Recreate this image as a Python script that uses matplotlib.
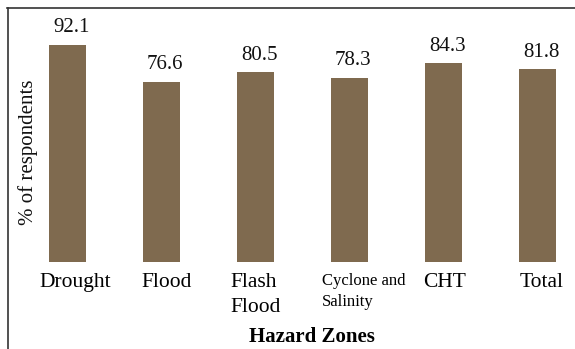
import numpy as np
import matplotlib.pyplot as plt
import matplotlib.transforms as mtransforms
from matplotlib.lines import Line2D

# hazard zones and share of respondents
zones = ['Drought', 'Flood', 'Flash\nFlood', 'Cyclone and\nSalinity', 'CHT', 'Total']
values = [92.1, 76.6, 80.5, 78.3, 84.3, 81.8]

plt.rcParams['font.family'] = ['Liberation Serif', 'DejaVu Serif']

W, H = 575, 349
fig = plt.figure(figsize=(W/100, H/100), dpi=100)
# axes placed in pixel terms: bars bottom at y=262, top of axes at y=8
ax = fig.add_axes([20.5/W, (H-262)/H, (575-20.5)/W, (262-8)/H])

x = np.arange(len(zones))
ax.bar(x, values, width=0.394, color='#7f6a4f')
ax.set_xlim(-0.5, 5.4)
ax.set_ylim(0, 107.8)

for xi, v in zip(x, values):
    ax.text(xi + 0.04, v + 3.2, '%.1f' % v, ha='center', va='bottom',
            fontsize=15, color='#111111')

ax.set_xticks(x)
ax.set_xticklabels(zones, fontsize=15.5, multialignment='left', linespacing=1.4)
ax.tick_params(axis='x', length=0, pad=8)
# small horizontal nudges of the tick labels, as in the original layout
nudges = [8, 5, 0, 14, 1, 4]
for lab, dx in zip(ax.get_xticklabels(), nudges):
    if lab.get_text().startswith('Cyclone'):
        lab.set_fontsize(12)
    lab.set_transform(lab.get_transform() +
                      mtransforms.ScaledTranslation(dx/100, 0, fig.dpi_scale_trans))
ax.set_yticks([])
for s in ax.spines.values():
    s.set_visible(False)

ax.set_xlabel('Hazard Zones', fontsize=15, fontweight='bold')
ax.xaxis.set_label_coords((312-20.5)/(575-20.5), -(337-262)/(262-8), transform=ax.transAxes)
ax.xaxis.label.set_va('center')

fig.text(28/W, 1-152/H, '% of respondents', rotation=90, ha='center', va='center',
         fontsize=15, color='#111111')

# frame lines of the cropped figure
fig.add_artist(Line2D([7/W, 1], [1-7.5/H, 1-7.5/H], color='#333333', lw=1.2))
fig.add_artist(Line2D([7.5/W, 7.5/W], [0, 1-7.5/H], color='#333333', lw=1.2))

fig.savefig('out.png', dpi=100)
